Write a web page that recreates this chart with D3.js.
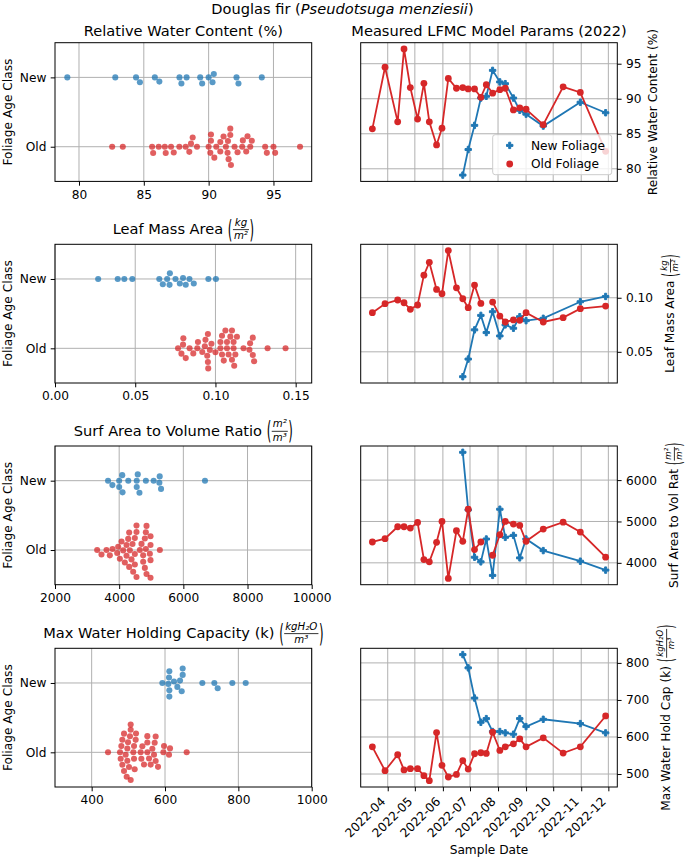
<!DOCTYPE html>
<html>
<head>
<meta charset="utf-8">
<script src="https://cdn.jsdelivr.net/npm/d3@7"></script>
<style>
  body { margin: 0; background: #fff; }
  text { font-family: "DejaVu Sans", sans-serif; fill: #000; }
</style>
</head>
<body>
<div id="chart"></div>
<script>
var categories = ["New", "Old"];

// sample dates of the time series
var oldDates = ["2022-03-15","2022-03-29","2022-04-12","2022-04-19","2022-04-26","2022-05-04","2022-05-11",
  "2022-05-17","2022-05-25","2022-05-31","2022-06-07","2022-06-16","2022-06-23","2022-06-29","2022-07-06",
  "2022-07-13","2022-07-19","2022-07-26","2022-08-03","2022-08-09","2022-08-18","2022-08-25","2022-09-01",
  "2022-09-20","2022-10-12","2022-10-31","2022-11-28"];
var newDates = ["2022-06-23","2022-06-29","2022-07-06","2022-07-13","2022-07-19","2022-07-26","2022-08-03",
  "2022-08-09","2022-08-18","2022-08-25","2022-09-01","2022-09-20","2022-10-31","2022-11-28"];
var monthTicks = ["2022-04","2022-05","2022-06","2022-07","2022-08","2022-09","2022-10","2022-11","2022-12"];

// time series (right column)
var oldRWC = [85.7, 94.5, 86.7, 97.1, 91.6, 87.1, 92.2, 86.7, 83.4, 85.8, 92.9, 91.5, 91.6, 91.4, 91.4,
  90.2, 92.0, 90.8, 91.3, 91.5, 88.4, 88.7, 88.5, 86.3, 91.7, 90.9, 82.5];
var newRWC = [79.1, 82.75, 86.2, 90.1, 90.35, 94.05, 92.4, 92.15, 90.1, 88.35, 87.8, 86.1, 89.5, 88.0];
var oldLMA = [0.0862, 0.0945, 0.0979, 0.0954, 0.0893, 0.0933, 0.1209, 0.1328, 0.1077, 0.1037, 0.1436,
  0.1092, 0.0991, 0.0908, 0.1117, 0.0948, null, 0.0960, 0.0831, 0.0776, 0.0795, 0.0791, 0.0862, 0.0776,
  0.0816, 0.0899, 0.0923];
var newLMA = [0.0270, 0.0433, 0.0703, 0.0837, 0.0678, 0.0871, 0.0647, 0.0749, 0.0718, 0.0825, 0.0788,
  0.0810, 0.0963, 0.1012];
var oldSAV = [4504, 4584, 4872, 4872, 4840, 4976, 4080, 4024, 4496, 5000, 3624, 4776, 4520, 5296, 4320,
  4504, null, 4184, 4680, 5000, 4936, 4904, 4520, 4816, 4984, 4744, 4136];
var newSAV = [6672, 5280, 4136, 4024, 4576, 3696, 5296, 4616, 4664, 4120, 4576, 4296, 4040, 3824];
var oldMWHC = [573.5, 509, 552, 511, 514.4, 514.4, 495.6, 482, 612, 523.4, 492, 499, 535.9, 513.5, 554.7,
  557.4, 555.6, 612.9, 563.6, 573.5, 581.5, 595, 573.5, 597.7, 556.5, 573.5, 656.8];
var newMWHC = [822.4, 786.6, 705.1, 639.7, 649.6, 614.7, 614.7, 611.1, 607.5, 649.6, 628.1, 647.8, 636.2, 611.1];

// individual samples (left column swarms)
var swarmNewRWC = [79.1, 82.8, 84.4, 84.7, 85.85, 86.2, 87.75, 87.9, 88.3, 89.35, 89.5, 90.0, 90.3, 90.4,
  92.15, 92.3, 94.1];
var swarmOldRWC = [82.56, 83.38, 85.64, 85.72, 86.15, 86.62, 86.69, 87.1, 87.31, 87.74, 88.23, 88.51, 88.64,
  88.77, 89.1, 90.0, 90.13, 90.18, 90.18, 90.44, 90.59, 90.9, 90.9, 91.15, 91.33, 91.46, 91.49, 91.54, 91.67,
  91.67, 91.72, 92.0, 92.23, 92.59, 92.64, 92.9, 93.0, 93.21, 93.33, 94.36, 94.49, 95.0, 95.13, 97.05];
var swarmNewLMA = [0.0269, 0.0391, 0.0432, 0.0482, 0.0650, 0.0672, 0.0699, 0.0714, 0.0716, 0.0751, 0.0778,
  0.0798, 0.0815, 0.0838, 0.0865, 0.0956, 0.1003];
var swarmOldLMA = [0.0767, 0.0788, 0.0798, 0.0800, 0.0815, 0.0839, 0.0862, 0.0887, 0.0891, 0.0918, 0.0934,
  0.0938, 0.0949, 0.0953, 0.0953, 0.0955, 0.0965, 0.0975, 0.1000, 0.1031, 0.1031, 0.1041, 0.1041, 0.1052,
  0.1062, 0.1072, 0.1072, 0.1082, 0.1093, 0.1103, 0.1103, 0.1113, 0.1113, 0.1117, 0.1124, 0.1134, 0.1175,
  0.1212, 0.1216, 0.1233, 0.1233, 0.1241, 0.1325, 0.1437];
var swarmNewSAV = [3653, 3789, 4000, 4000, 4095, 4105, 4284, 4547, 4547, 4579, 4632, 4832, 5074, 5253, 5263,
  5305, 6674];
var swarmOldSAV = [3314, 3449, 3605, 3709, 3792, 3938, 3969, 4021, 4073, 4125, 4177, 4229, 4229, 4281, 4312,
  4312, 4332, 4384, 4416, 4436, 4488, 4488, 4488, 4540, 4540, 4540, 4644, 4696, 4748, 4748, 4800, 4800, 4831,
  4831, 4852, 4852, 4956, 4977, 4977, 4977, 4977, 5268];
var swarmNewMWHC = [592.7, 609.1, 610.9, 611.8, 611.8, 611.8, 624.5, 633.6, 640.9, 645.5, 648.2, 648.2,
  701.8, 734.5, 743.6, 783.6, 820];
var swarmOldMWHC = [444.6, 477.3, 479.1, 480.9, 483.6, 483.6, 488.2, 488.2, 492.7, 495.5, 497.3, 497.3, 499.1,
  501.8, 504.5, 506.4, 506.4, 506.4, 513.6, 515.5, 515.5, 517.3, 520, 520.9, 533.6, 535.5, 538.2, 542.7, 551.8,
  551.8, 551.8, 556.4, 560.9, 565.5, 570, 571.8, 574.5, 574.5, 580.9, 595.5, 597.3, 610.9, 613.6, 659.1];

// tick labels
var rwcTicks = [80, 85, 90, 95];
var lmaSwarmTicks = [0, 0.05, 0.10, 0.15];
var lmaTicks = [0.05, 0.10];
var savSwarmTicks = [2000, 4000, 6000, 8000, 10000];
var savTicks = [4000, 5000, 6000];
var mwhcSwarmTicks = [400, 600, 800, 1000];
var mwhcTicks = [500, 600, 700, 800];

var parseDay = d3.timeParse("%Y-%m-%d"), parseMonth = d3.timeParse("%Y-%m");

var width = 685, height = 859;
var fsTick = 12.2, fsTitle = 14.6;
var leftX = [55, 311.7], rightX = [360.7, 617.3];
var rowTop = [42.7, 244.3, 446, 648.3], rowH = 138.7;
var tickLen = 4.3, tickPad = 4.3, labelPad = 4.9;
var blue = "#1f77b4", red = "#d62728";

var panels = [
  { title: ["Relative Water Content (%)"], ylab: ["Relative Water Content (%)"],
    swNew: swarmNewRWC, swOld: swarmOldRWC, xlim: [78.15, 97.95], xTicks: rwcTicks, xFmt: d3.format("d"),
    tsNew: newRWC, tsOld: oldRWC, yTicks: rwcTicks, yFmt: d3.format("d") },
  { title: ["Leaf Mass Area ", { num: "kg", den: "m²" }], ylab: ["Leaf Mass Area ", { num: "kg", den: "m²" }],
    swNew: swarmNewLMA, swOld: swarmOldLMA, xlim: [0, 0.16], xTicks: lmaSwarmTicks, xFmt: d3.format(".2f"),
    tsNew: newLMA, tsOld: oldLMA, yTicks: lmaTicks, yFmt: d3.format(".2f") },
  { title: ["Surf Area to Volume Ratio ", { num: "m²", den: "m³" }], ylab: ["Surf Area to Vol Rat ", { num: "m²", den: "m³" }],
    swNew: swarmNewSAV, swOld: swarmOldSAV, xlim: [2000, 10000], xTicks: savSwarmTicks, xFmt: d3.format("d"),
    tsNew: newSAV, tsOld: oldSAV, yTicks: savTicks, yFmt: d3.format("d") },
  { title: ["Max Water Holding Capacity (k) ", { num: "kgH₂O", den: "m³" }], ylab: ["Max Water Hold Cap (k) ", { num: "kgH₂O", den: "m³" }],
    swNew: swarmNewMWHC, swOld: swarmOldMWHC, xlim: [300, 1000], xTicks: mwhcSwarmTicks, xFmt: d3.format("d"),
    tsNew: newMWHC, tsOld: oldMWHC, yTicks: mwhcTicks, yFmt: d3.format("d") }
];

var svg = d3.select("#chart").append("svg")
  .attr("width", width)
  .attr("height", height);

// suptitle
var sup = svg.append("text")
  .attr("x", width / 2)
  .attr("y", 14)
  .attr("text-anchor", "middle")
  .style("font-size", fsTitle + "px");
sup.append("tspan").text("Douglas fir (");
sup.append("tspan").style("font-style", "italic").text("Pseudotsuga menziesii");
sup.append("tspan").text(")");

// text with \left( \frac{}{} \right) parts, baseline at y=0; returns width
function mathText(g, parts, fs) {
  var x = 0;
  parts.forEach(function(p) {
    if (typeof p === "string") {
      var t = g.append("text").attr("x", x).attr("y", 0)
        .style("font-size", fs + "px").style("white-space", "pre").text(p);
      x += t.node().getComputedTextLength();
      return;
    }
    var fs2 = fs * 0.7, bar = -0.3 * fs;
    var lp = g.append("text").text("(").style("font-size", fs + "px")
      .attr("y", 0.315 * fs)
      .attr("transform", "translate(" + x + "," + bar + ") scale(0.8,1.75)");
    x += lp.node().getComputedTextLength() * 0.8 + 0.5;
    var num = g.append("text").style("font-size", fs2 + "px").style("font-style", "italic")
      .attr("text-anchor", "middle").attr("y", bar - 0.28 * fs).text(p.num);
    var den = g.append("text").style("font-size", fs2 + "px").style("font-style", "italic")
      .attr("text-anchor", "middle").attr("y", bar + 0.64 * fs).text(p.den);
    var w = Math.max(num.node().getComputedTextLength(), den.node().getComputedTextLength()) + 2;
    num.attr("x", x + w / 2);
    den.attr("x", x + w / 2);
    g.append("line").attr("x1", x).attr("x2", x + w).attr("y1", bar).attr("y2", bar)
      .attr("stroke", "#000").attr("stroke-width", 0.8);
    x += w + 0.5;
    var rp = g.append("text").text(")").style("font-size", fs + "px")
      .attr("y", 0.315 * fs)
      .attr("transform", "translate(" + x + "," + bar + ") scale(0.8,1.75)");
    x += rp.node().getComputedTextLength() * 0.8;
  });
  return x;
}

function styleAxis(a) {
  a.attr("font-family", null).attr("font-size", null);
  a.select(".domain").remove();
  a.selectAll(".tick line").attr("stroke", "#000").attr("stroke-width", 1);
  a.selectAll(".tick text").style("font-size", fsTick + "px");
}

// seaborn-like beeswarm: returns offsets in px for positions along the value axis
function swarmOffsets(pos, d, lim) {
  var order = d3.range(pos.length).sort(function(a, b) { return pos[a] - pos[b]; });
  var placed = [], out = new Array(pos.length);
  order.forEach(function(i) {
    var v = pos[i];
    var nb = placed.filter(function(p) { return v - p.v < d; });
    var cands = [0], leftFirst = true;
    nb.forEach(function(p) {
      var dv = v - p.v;
      var dd = Math.sqrt(Math.max(d * d - dv * dv, 0)) * 1.05;
      if (leftFirst) cands.push(p.o - dd, p.o + dd); else cands.push(p.o + dd, p.o - dd);
      leftFirst = !leftFirst;
    });
    cands = cands.map(function(c, k) { return [c, k]; })
      .sort(function(a, b) { return Math.abs(a[0]) - Math.abs(b[0]) || a[1] - b[1]; })
      .map(function(a) { return a[0]; });
    var chosen = cands.find(function(c) {
      return nb.every(function(p) { return (p.v - v) * (p.v - v) + (p.o - c) * (p.o - c) >= d * d - 1e-6; });
    });
    placed.push({ v: v, o: chosen });
    out[i] = Math.max(-lim, Math.min(lim, chosen));
  });
  return out;
}

function drawSwarmPanel(p, top) {
  var g = svg.append("g");
  var bottom = top + rowH;
  var x = d3.scaleLinear().domain(p.xlim).range(leftX);
  var y = d3.scalePoint().domain(categories).range([top, bottom]).padding(0.5);

  g.selectAll(".gx").data(p.xTicks).enter().append("line")
    .attr("x1", function(d) { return x(d); }).attr("x2", function(d) { return x(d); })
    .attr("y1", top).attr("y2", bottom)
    .attr("stroke", "#b0b0b0").attr("stroke-width", 1);
  g.selectAll(".gy").data(categories).enter().append("line")
    .attr("x1", leftX[0]).attr("x2", leftX[1])
    .attr("y1", function(d) { return y(d); }).attr("y2", function(d) { return y(d); })
    .attr("stroke", "#b0b0b0").attr("stroke-width", 1);

  var r = 3.04, lim = 0.4 * y.step();
  [["New", p.swNew, blue], ["Old", p.swOld, red]].forEach(function(s) {
    var xs = s[1].map(function(v) { return x(v); });
    var offs = swarmOffsets(xs, 2 * r, lim);
    g.selectAll(null).data(s[1]).enter().append("circle")
      .attr("cx", function(d, i) { return xs[i]; })
      .attr("cy", function(d, i) { return y(s[0]) - offs[i]; })
      .attr("r", r)
      .attr("fill", s[2])
      .attr("fill-opacity", 0.74);
  });

  g.append("rect").attr("x", leftX[0]).attr("y", top)
    .attr("width", leftX[1] - leftX[0]).attr("height", rowH)
    .attr("fill", "none").attr("stroke", "#000").attr("stroke-width", 1);

  g.append("g").attr("transform", "translate(0," + bottom + ")")
    .call(d3.axisBottom(x).tickValues(p.xTicks).tickFormat(p.xFmt).tickSize(tickLen).tickPadding(tickPad))
    .call(styleAxis);
  var ya = g.append("g").attr("transform", "translate(" + leftX[0] + ",0)")
    .call(d3.axisLeft(y).tickSize(tickLen).tickPadding(tickPad))
    .call(styleAxis);

  // y label
  var tickLeft = d3.min(ya.selectAll(".tick text").nodes(), function(n) { return n.getBBox().x; }) + leftX[0];
  var lab = g.append("g");
  lab.append("text").style("font-size", fsTick + "px").text("Foliage Age Class");
  var bb = lab.node().getBBox();
  lab.attr("transform", "translate(" + (tickLeft - labelPad - (bb.y + bb.height)) + "," +
    ((top + bottom) / 2 + bb.x + bb.width / 2) + ") rotate(-90)");

  // title
  var tg = g.append("g");
  var tw = mathText(tg, p.title, fsTitle);
  var frac = p.title.length > 1;
  tg.attr("transform", "translate(" + ((leftX[0] + leftX[1]) / 2 - tw / 2) + "," + (top - (frac ? 10.3 : 6.8)) + ")");
}

var allDates = oldDates.concat(newDates).map(parseDay);
var tExt = d3.extent(allDates), tPad = (tExt[1] - tExt[0]) * 0.05;
var timeDomain = [new Date(+tExt[0] - tPad), new Date(+tExt[1] + tPad)];

function plusPath(h, a) {
  var pts = [[-a,-h],[a,-h],[a,-a],[h,-a],[h,a],[a,a],[a,h],[-a,h],[-a,a],[-h,a],[-h,-a],[-a,-a]];
  return "M" + pts.map(function(q) { return q.join(","); }).join("L") + "Z";
}

function drawSeriesPanel(p, top, isFirst, isLast) {
  var g = svg.append("g");
  var bottom = top + rowH;
  var x = d3.scaleTime().domain(timeDomain).range(rightX);
  var vals = p.tsNew.concat(p.tsOld).filter(function(v) { return v != null; });
  var ext = d3.extent(vals), pad = (ext[1] - ext[0]) * 0.05;
  var y = d3.scaleLinear().domain([ext[0] - pad, ext[1] + pad]).range([bottom, top]);
  var months = monthTicks.map(parseMonth);

  g.selectAll(".gx").data(months).enter().append("line")
    .attr("x1", function(d) { return x(d); }).attr("x2", function(d) { return x(d); })
    .attr("y1", top).attr("y2", bottom)
    .attr("stroke", "#b0b0b0").attr("stroke-width", 1);
  g.selectAll(".gy").data(p.yTicks).enter().append("line")
    .attr("x1", rightX[0]).attr("x2", rightX[1])
    .attr("y1", function(d) { return y(d); }).attr("y2", function(d) { return y(d); })
    .attr("stroke", "#b0b0b0").attr("stroke-width", 1);

  var series = [
    { dates: newDates, vals: p.tsNew, color: blue, mark: "plus" },
    { dates: oldDates, vals: p.tsOld, color: red, mark: "circle" }
  ];
  series.forEach(function(s) {
    var pts = s.dates.map(function(d, i) { return { t: parseDay(d), v: s.vals[i] }; });
    var line = d3.line()
      .defined(function(q) { return q.v != null; })
      .x(function(q) { return x(q.t); })
      .y(function(q) { return y(q.v); });
    g.append("path").datum(pts).attr("d", line)
      .attr("fill", "none").attr("stroke", s.color).attr("stroke-width", 1.8);
    var good = pts.filter(function(q) { return q.v != null; });
    if (s.mark === "circle") {
      g.selectAll(null).data(good).enter().append("circle")
        .attr("cx", function(q) { return x(q.t); }).attr("cy", function(q) { return y(q.v); })
        .attr("r", 3.4).attr("fill", s.color);
    } else {
      g.selectAll(null).data(good).enter().append("path")
        .attr("d", plusPath(3.2, 1.0))
        .attr("transform", function(q) { return "translate(" + x(q.t) + "," + y(q.v) + ")"; })
        .attr("fill", s.color).attr("stroke", s.color).attr("stroke-width", 1).attr("stroke-linejoin", "miter");
    }
  });

  g.append("rect").attr("x", rightX[0]).attr("y", top)
    .attr("width", rightX[1] - rightX[0]).attr("height", rowH)
    .attr("fill", "none").attr("stroke", "#000").attr("stroke-width", 1);

  var ya = g.append("g").attr("transform", "translate(" + rightX[1] + ",0)")
    .call(d3.axisRight(y).tickValues(p.yTicks).tickFormat(p.yFmt).tickSize(tickLen).tickPadding(tickPad))
    .call(styleAxis);
  var tickRight = d3.max(ya.selectAll(".tick text").nodes(), function(n) {
    var b = n.getBBox(); return b.x + b.width;
  }) + rightX[1];

  var lab = g.append("g");
  mathText(lab, p.ylab, fsTick);
  var bb = lab.node().getBBox();
  lab.attr("transform", "translate(" + (tickRight + labelPad - bb.y) + "," +
    ((top + bottom) / 2 + bb.x + bb.width / 2) + ") rotate(-90)");

  if (isFirst) {
    var tg = g.append("g");
    var tw = mathText(tg, ["Measured LFMC Model Params (2022)"], fsTitle);
    tg.attr("transform", "translate(" + ((rightX[0] + rightX[1]) / 2 - tw / 2) + "," + (top - 6.8) + ")");

    // legend
    var lw = 119, lh = 40;
    var lx = rightX[1] - 5.6 - lw, ly = bottom - 6.7 - lh;
    var leg = g.append("g").attr("transform", "translate(" + lx + "," + ly + ")");
    leg.append("rect").attr("width", lw).attr("height", lh).attr("rx", 2.5)
      .attr("fill", "#fff").attr("fill-opacity", 0.8).attr("stroke", "#cccccc").attr("stroke-width", 1);
    [["New Foliage", blue, "plus"], ["Old Foliage", red, "circle"]].forEach(function(e, i) {
      var cy = 10.7 + i * 18.6;
      if (e[2] === "plus") {
        leg.append("path").attr("d", plusPath(3.2, 1.0)).attr("transform", "translate(17," + cy + ")")
          .attr("fill", e[1]).attr("stroke", e[1]).attr("stroke-width", 1);
      } else {
        leg.append("circle").attr("cx", 17).attr("cy", cy).attr("r", 3.4).attr("fill", e[1]);
      }
      leg.append("text").attr("x", 38.3).attr("y", cy).attr("dy", "0.36em")
        .style("font-size", fsTick + "px").text(e[0]);
    });
  }

  if (isLast) {
    var xa = g.append("g").attr("transform", "translate(0," + bottom + ")")
      .call(d3.axisBottom(x).tickValues(months).tickFormat(d3.timeFormat("%Y-%m")).tickSize(tickLen).tickPadding(0))
      .call(styleAxis);
    var maxBottom = 0;
    xa.selectAll(".tick text").each(function() {
      var t = d3.select(this);
      t.attr("y", null).attr("dy", null).attr("text-anchor", "start");
      var w = this.getComputedTextLength();
      var a = 0.76 * fsTick, dsc = 0.24 * fsTick, c = Math.SQRT1_2;
      var ox = -c * (w + dsc), oy = tickLen + tickPad + c * (w + a);
      t.attr("transform", "translate(" + ox + "," + oy + ") rotate(-45)");
      maxBottom = Math.max(maxBottom, tickLen + tickPad + c * (w + a + dsc));
    });
    g.append("text")
      .attr("x", (rightX[0] + rightX[1]) / 2)
      .attr("y", bottom + maxBottom + labelPad + 0.76 * fsTick)
      .attr("text-anchor", "middle")
      .style("font-size", fsTick + "px")
      .text("Sample Date");
  }
}

panels.forEach(function(p, i) {
  drawSwarmPanel(p, rowTop[i]);
  drawSeriesPanel(p, rowTop[i], i === 0, i === panels.length - 1);
});
</script>
</body>
</html>
